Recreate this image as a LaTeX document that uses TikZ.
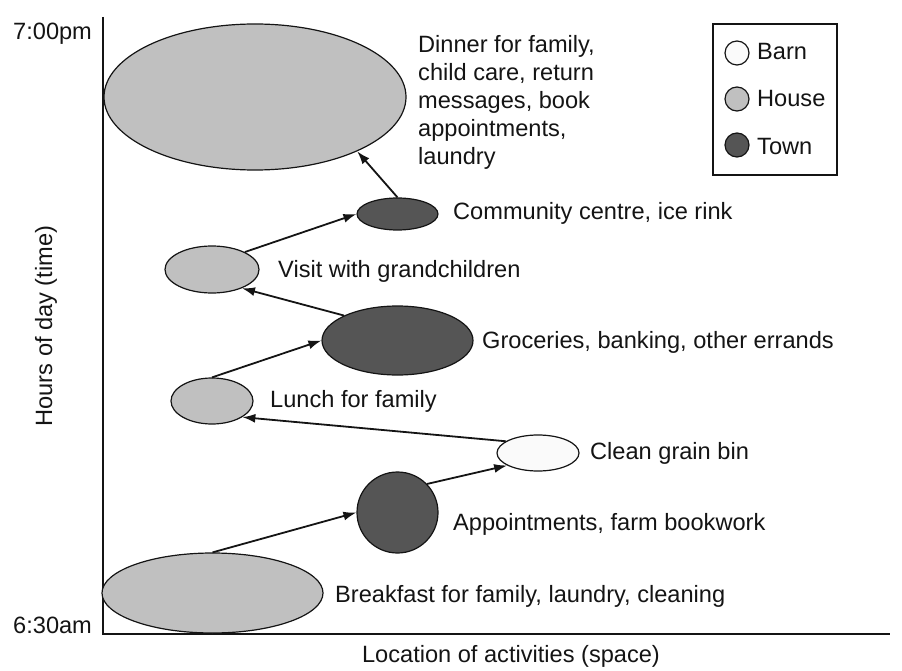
\documentclass[tikz,border=0pt]{standalone}
\usepackage{fontspec}
\setmainfont{Liberation Sans}
\usetikzlibrary{shapes.geometric,arrows.meta}
\definecolor{housec}{RGB}{192,192,192}
\definecolor{townc}{RGB}{85,85,85}
\definecolor{barnc}{RGB}{250,250,250}
\definecolor{inkc}{RGB}{20,20,20}
\begin{document}
\begin{tikzpicture}[x=1pt,y=-1pt,
  blob/.style={ellipse,draw=inkc,line width=1.2pt,inner sep=0pt},
  house/.style={blob,fill=housec},
  town/.style={blob,fill=townc},
  barn/.style={blob,fill=barnc},
  lbl/.style={anchor=base west,inner sep=0pt,text=inkc,font=\fontsize{23.6}{28}\selectfont},
  mlbl/.style={anchor=north west,inner sep=0pt,align=left,text=inkc,font=\fontsize{23.6}{28}\selectfont},
  flow/.style={draw=inkc,line width=1.8pt,-{Latex[length=13pt,width=9pt]}},
  axis/.style={draw=inkc,line width=1.6pt}]
\useasboundingbox (0,0) rectangle (902,671);
% axes
\coordinate (top) at (103,17);
\coordinate (org) at (103,634);
\coordinate (xend) at (890,634);
\draw[axis] (top) -- (org) -- (xend);
% activity blobs
\node[house,minimum width=302pt,minimum height=146pt] (dn) at (255,97) {};
\node[town,minimum width=81pt,minimum height=32pt] (cm) at (397.5,214) {};
\node[house,minimum width=94pt,minimum height=47pt] (vi) at (212,269.5) {};
\node[town,minimum width=151pt,minimum height=69pt] (gr) at (397.5,340.5) {};
\node[house,minimum width=82pt,minimum height=46pt] (lu) at (212,401) {};
\node[barn,minimum width=82pt,minimum height=36pt] (cl) at (538,453) {};
\node[town,minimum width=81pt,minimum height=81pt] (ap) at (397.5,512.5) {};
\node[house,minimum width=221pt,minimum height=80pt] (bk) at (212.5,593) {};
% flow arrows
\draw[flow] (bk.north) -- (ap.west);
\draw[flow] (ap.44) -- (cl.202);
\draw[flow] (cl.160) -- (lu.-28);
\draw[flow] (lu.north) -- (gr.west);
\draw[flow] (gr.155) -- (vi.-32);
\draw[flow] (vi.28) -- (cm.west);
\draw[flow] (cm.north) -- (dn.-28);
% labels
\node[mlbl] (tdn) at (418,35) {Dinner for family,\\child care, return\\messages, book\\appointments,\\laundry};
\node[lbl] (tcm) at (453,219) {Community centre, ice rink};
\node[lbl] (tvi) at (278,277) {Visit with grandchildren};
\node[lbl] (tgr) at (482,348) {Groceries, banking, other errands};
\node[lbl] (tlu) at (270,407) {Lunch for family};
\node[lbl] (tcl) at (590,459) {Clean grain bin};
\node[lbl] (tap) at (453,530) {Appointments, farm bookwork};
\node[lbl] (tbk) at (335,602) {Breakfast for family, laundry, cleaning};
% axis labels
\node[lbl] (t7) at (13,40) {7:00pm};
\node[lbl] (t6) at (13,633) {6:30am};
\node[lbl,anchor=base] (tx) at (511,662) {Location of activities (space)};
\node[lbl,anchor=base,rotate=90] (ty) at (52,326) {Hours of day (time)};
% legend
\node[draw=inkc,line width=1.3pt,minimum width=124pt,minimum height=151pt,inner sep=0pt] (leg) at (775,99.5) {};
\node[barn,circle,minimum size=24pt] (lb) at (737,53) {};
\node[house,circle,minimum size=24pt] (lh) at (737,99) {};
\node[town,circle,minimum size=24pt] (lt) at (737,145) {};
\node[lbl] (tlb) at (757,60) {Barn};
\node[lbl] (tlh) at (757,107) {House};
\node[lbl] (tlt) at (757,155) {Town};
\end{tikzpicture}
\end{document}
